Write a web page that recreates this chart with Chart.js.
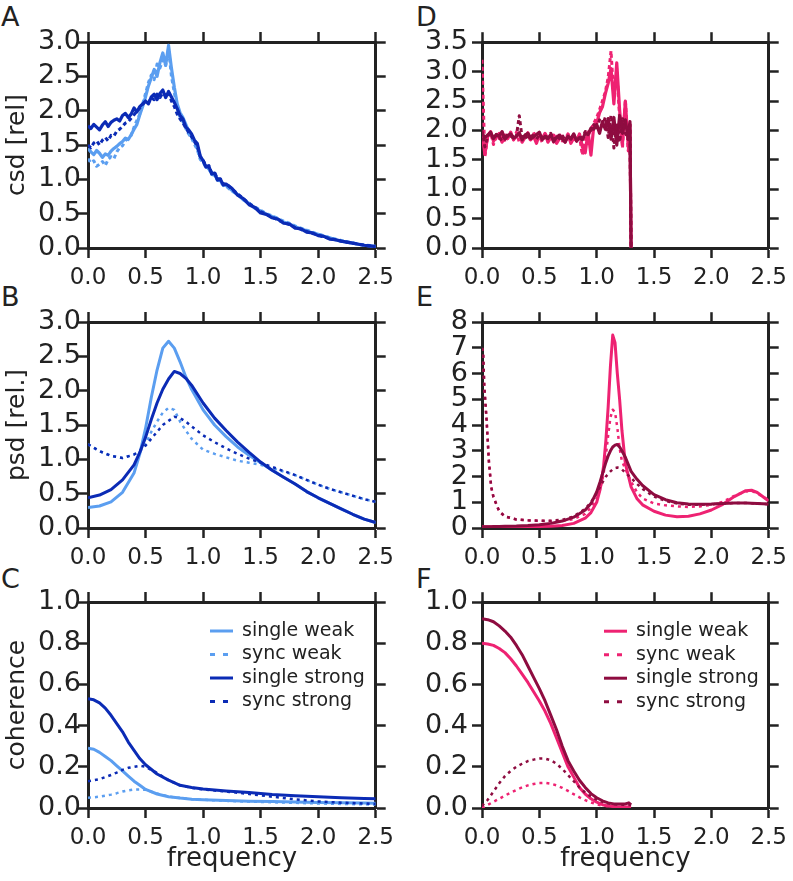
<!DOCTYPE html>
<html>
<head>
<meta charset="utf-8">
<script src="https://cdn.jsdelivr.net/npm/chart.js@4.4.0/dist/chart.umd.min.js"></script>
<style>
body{margin:0;background:#fff;width:793px;height:881px;position:relative;overflow:hidden;font-family:"DejaVu Sans";}
canvas{position:absolute;}
.letra{position:absolute;font-size:27px;line-height:27px;color:#222;}
</style>
</head>
<body>
<div class="letra" style="left:1px;top:3px">A</div>
<div class="letra" style="left:416px;top:3px">D</div>
<div class="letra" style="left:1px;top:283px">B</div>
<div class="letra" style="left:416px;top:283px">E</div>
<div class="letra" style="left:1px;top:565px">C</div>
<div class="letra" style="left:416px;top:565px">F</div>
<canvas id="pA" width="400" height="276" style="left:0;top:22px"></canvas>
<canvas id="pD" width="393" height="276" style="left:400px;top:22px"></canvas>
<canvas id="pB" width="400" height="276" style="left:0;top:302px"></canvas>
<canvas id="pE" width="393" height="276" style="left:400px;top:302px"></canvas>
<canvas id="pC" width="400" height="299" style="left:0;top:582px"></canvas>
<canvas id="pF" width="393" height="299" style="left:400px;top:582px"></canvas>
<script>
// nomes das series (legenda)
var nomes = ["single weak", "sync weak", "single strong", "sync strong"]
var azuis = ["#5b9ef0", "#5b9ef0", "#0b2bb5", "#0b2bb5"]
var rosas = ["#ee2272", "#ee2272", "#8e0c40", "#8e0c40"]

// A: csd
var freqA = [0,0.025,0.05,0.075,0.1,0.125,0.15,0.175,0.2,0.225,
  0.25,0.275,0.3,0.325,0.35,0.375,0.4,0.425,0.45,0.475,
  0.5,0.525,0.55,0.575,0.6,0.625,0.65,0.675,0.7,0.725,
  0.75,0.775,0.8,0.825,0.85,0.875,0.9,0.925,0.95,0.975,
  1.0,1.025,1.05,1.075,1.1,1.125,1.15,1.175,1.2,
  1.25,1.3,1.35,1.4,1.45,1.5,1.55,1.6,1.65,1.7,
  1.75,1.8,1.85,1.9,1.95,2.0,2.05,2.1,2.15,2.2,
  2.25,2.3,2.35,2.4,2.45,2.5]
var csdSingleWeak = [1.45,1.4,1.36,1.42,1.38,1.32,1.37,1.35,1.41,1.45,
  1.48,1.52,1.55,1.6,1.58,1.65,1.73,1.8,1.94,2.06,
  2.2,2.36,2.48,2.6,2.5,2.7,2.84,2.66,2.95,2.62,
  2.34,2.1,1.97,1.9,1.8,1.7,1.62,1.56,1.46,1.32,
  1.27,1.18,1.16,1.08,1.07,0.99,0.98,0.92,0.91,
  0.84,0.78,0.7,0.65,0.58,0.54,0.49,0.46,0.42,0.38,
  0.35,0.31,0.28,0.25,0.22,0.2,0.17,0.15,0.12,0.1,
  0.085,0.07,0.055,0.04,0.03,0.02]
var csdSyncWeak = [1.3,1.24,1.27,1.19,1.22,1.26,1.2,1.29,1.33,1.3,
  1.4,1.46,1.49,1.56,1.61,1.64,1.76,1.86,1.95,2.1,
  2.25,2.41,2.52,2.45,2.68,2.62,2.74,2.66,2.9,2.5,
  2.26,2.04,1.9,1.84,1.74,1.66,1.6,1.51,1.43,1.29,
  1.25,1.17,1.15,1.07,1.06,0.99,0.97,0.91,0.9,
  0.83,0.78,0.71,0.65,0.6,0.55,0.5,0.47,0.43,0.39,
  0.36,0.32,0.29,0.26,0.23,0.2,0.18,0.15,0.13,0.11,
  0.09,0.075,0.06,0.045,0.035,0.025]
var csdSingleStrong = [1.78,1.74,1.8,1.76,1.72,1.79,1.84,1.77,1.83,1.86,
  1.88,1.85,1.93,1.96,1.9,1.95,2.04,1.98,2.06,2.1,
  2.14,2.1,2.2,2.24,2.16,2.25,2.3,2.19,2.28,2.2,
  2.12,2.03,1.93,1.88,1.76,1.72,1.66,1.57,1.52,1.34,
  1.27,1.18,1.19,1.08,1.09,0.99,1.0,0.92,0.93,
  0.87,0.77,0.72,0.63,0.59,0.51,0.49,0.44,0.42,0.36,
  0.35,0.29,0.28,0.23,0.22,0.18,0.17,0.13,0.12,0.1,
  0.085,0.07,0.055,0.04,0.03,0.02]
var csdSyncStrong = [1.5,1.46,1.53,1.56,1.5,1.57,1.61,1.56,1.64,1.63,
  1.7,1.73,1.77,1.82,1.84,1.89,1.94,1.99,2.04,2.09,
  2.14,2.12,2.19,2.16,2.24,2.19,2.26,2.22,2.27,2.14,
  2.06,1.95,1.88,1.82,1.75,1.68,1.62,1.55,1.48,1.33,
  1.28,1.19,1.2,1.09,1.1,1.01,1.01,0.93,0.94,
  0.86,0.79,0.72,0.65,0.59,0.53,0.49,0.45,0.41,0.37,
  0.34,0.3,0.27,0.24,0.21,0.19,0.16,0.14,0.12,0.1,
  0.085,0.07,0.055,0.04,0.03,0.02]

// D: csd
var freqD = [0,0.025,0.05,0.075,0.1,0.125,0.15,0.175,0.2,0.225,
  0.25,0.275,0.3,0.325,0.35,0.375,0.4,0.425,0.45,0.475,
  0.5,0.525,0.55,0.575,0.6,0.625,0.65,0.675,0.7,0.725,
  0.75,0.775,0.8,0.825,0.85,0.875,0.9,0.925,0.95,0.975,
  1.0,1.025,1.05,1.075,1.1,1.125,1.15,1.175,1.2,1.225,
  1.25,1.275,1.29,1.3]
var csdDSingleWeak = [1.95,1.6,1.9,1.98,1.82,1.88,1.95,1.8,1.92,1.86,
  1.97,1.84,1.9,1.95,1.8,1.88,1.96,1.84,1.9,1.78,
  1.93,1.86,1.95,1.8,1.88,1.92,1.78,1.86,1.9,1.8,
  1.94,1.78,1.87,1.82,1.94,1.72,1.62,1.97,1.58,2.08,
  2.12,2.3,2.4,2.62,2.8,3.05,2.45,3.15,2.35,1.78,
  2.5,1.72,2.1,0]
var csdDSyncWeak = [3.2,1.55,1.9,1.97,1.76,1.9,1.86,1.97,1.8,1.9,
  1.94,1.84,1.97,1.8,1.9,1.88,1.93,1.82,1.97,1.85,
  1.9,1.8,1.95,1.86,1.92,1.8,1.9,1.94,1.82,1.88,
  1.93,1.8,1.86,1.84,1.9,1.58,1.87,1.9,2.02,2.12,
  2.22,2.35,2.5,2.65,2.9,3.35,2.55,3.05,2.2,1.7,
  2.52,1.65,2.0,0]
var csdDSingleStrong = [1.95,1.88,1.92,1.97,1.86,1.93,1.9,1.98,1.85,1.91,
  1.94,1.87,1.9,1.96,1.84,1.92,1.95,1.86,1.89,1.93,
  1.97,1.84,1.9,1.86,1.93,1.81,1.88,1.92,1.85,1.8,
  1.9,1.86,1.94,1.82,1.88,1.84,1.95,1.93,2.04,2.02,
  2.1,1.95,2.15,2.02,2.2,1.85,2.22,1.75,2.25,1.95,
  2.18,1.85,2.15,0]
var csdDSyncStrong = [2.0,1.72,1.9,1.96,1.85,1.93,1.88,1.82,1.95,1.9,
  1.86,1.94,1.9,2.25,1.87,1.92,1.84,1.95,1.9,1.85,
  1.93,1.88,1.84,1.92,1.95,1.84,1.9,1.86,1.92,1.82,
  1.9,1.85,1.93,1.82,1.9,1.87,1.98,1.97,2.0,2.1,
  2.02,2.18,2.08,2.22,1.88,2.26,1.7,2.12,1.8,2.2,
  1.95,1.85,2.1,0]

// B: psd
var freqB = [0,0.1,0.2,0.3,0.4,0.45,0.5,0.55,0.6,0.65,0.7,0.75,0.8,0.85,0.9,
  1.0,1.1,1.2,1.3,1.4,1.5,1.6,1.7,1.8,1.9,2.0,2.1,2.2,2.3,2.4,2.5]
var psdSingleWeak = [0.3,0.32,0.38,0.52,0.8,1.08,1.45,1.9,2.3,2.62,2.72,2.62,2.42,2.2,2.02,
  1.72,1.5,1.33,1.18,1.06,0.95,0.84,0.74,0.64,0.53,0.44,0.36,0.28,0.2,0.13,0.08]
var psdSyncWeak = [1.22,1.12,1.05,1.02,1.07,1.12,1.22,1.4,1.55,1.68,1.75,1.72,1.55,1.42,1.3,
  1.14,1.08,1.03,0.98,0.95,0.92,0.87,0.82,0.77,0.7,0.63,0.57,0.52,0.47,0.42,0.38]
var psdSingleStrong = [0.44,0.48,0.56,0.7,0.92,1.1,1.32,1.58,1.82,2.02,2.17,2.28,2.25,2.18,2.08,
  1.82,1.6,1.42,1.25,1.1,0.96,0.84,0.74,0.64,0.53,0.44,0.36,0.28,0.2,0.13,0.08]
var psdSyncStrong = [1.22,1.12,1.05,1.02,1.07,1.12,1.2,1.3,1.4,1.5,1.56,1.62,1.6,1.55,1.48,
  1.35,1.25,1.16,1.08,1.01,0.95,0.89,0.83,0.77,0.7,0.63,0.57,0.52,0.47,0.42,0.38]

// E: psd
var freqE = [0,0.01,0.02,0.04,0.06,0.08,0.1,0.15,0.2,0.3,
  0.4,0.5,0.6,0.7,0.8,0.9,0.95,1.0,1.03,1.06,
  1.08,1.1,1.12,1.14,1.16,1.18,1.2,1.22,1.25,1.3,
  1.35,1.4,1.5,1.6,1.7,1.8,1.9,2.0,2.1,2.2,
  2.3,2.35,2.4,2.5]
var psdESingleWeak = [0.05,0.05,0.05,0.05,0.05,0.05,0.05,0.05,0.05,0.05,
  0.05,0.06,0.07,0.1,0.18,0.38,0.6,1.0,1.5,2.4,
  3.4,4.7,6.3,7.5,7.2,6.0,5.0,3.8,2.5,1.6,
  1.15,0.9,0.65,0.5,0.44,0.46,0.55,0.7,0.92,1.22,
  1.45,1.47,1.38,1.05]
var psdESyncWeak = [7.0,6.8,5.5,4.2,2.6,1.6,1.2,0.65,0.45,0.33,
  0.3,0.28,0.27,0.28,0.35,0.55,0.8,1.15,1.5,2.1,
  2.8,3.6,4.3,4.6,4.5,3.9,3.1,2.6,2.3,1.8,
  1.4,1.15,0.95,0.88,0.84,0.82,0.84,0.9,1.02,1.25,
  1.42,1.44,1.35,1.08]
var psdESingleStrong = [0.05,0.05,0.05,0.05,0.05,0.05,0.06,0.06,0.07,0.08,
  0.1,0.13,0.18,0.27,0.42,0.7,0.95,1.4,1.8,2.25,
  2.55,2.8,3.0,3.15,3.22,3.25,3.15,3.0,2.75,2.2,
  1.9,1.65,1.3,1.1,0.98,0.93,0.92,0.93,0.95,0.97,
  0.97,0.96,0.95,0.93]
var psdESyncStrong = [7.0,6.8,5.5,4.2,2.6,1.6,1.2,0.65,0.45,0.33,
  0.3,0.28,0.28,0.32,0.45,0.75,1.0,1.35,1.6,1.85,
  2.0,2.1,2.2,2.28,2.33,2.35,2.33,2.28,2.15,1.95,
  1.72,1.52,1.22,1.05,0.95,0.9,0.9,0.92,0.95,0.97,
  0.97,0.96,0.95,0.92]

// C: coherence
var freqC = [0,0.05,0.1,0.15,0.2,0.25,0.3,0.35,0.4,0.45,0.5,0.6,0.7,0.8,0.9,1.0,1.2,1.4,1.6,1.8,2.0,2.2,2.4,2.5]
var cohSingleWeak = [0.29,0.285,0.27,0.25,0.23,0.205,0.18,0.155,0.13,0.11,0.09,0.068,0.055,0.048,0.043,0.04,0.036,0.033,0.031,0.029,0.027,0.025,0.024,0.023]
var cohSyncWeak = [0.05,0.052,0.055,0.06,0.065,0.072,0.08,0.086,0.09,0.09,0.088,0.07,0.056,0.048,0.043,0.04,0.035,0.031,0.028,0.025,0.022,0.02,0.018,0.017]
var cohSingleStrong = [0.53,0.525,0.51,0.485,0.45,0.41,0.37,0.32,0.28,0.24,0.21,0.165,0.135,0.11,0.1,0.092,0.083,0.075,0.066,0.06,0.055,0.05,0.046,0.045]
var cohSyncStrong = [0.13,0.135,0.14,0.15,0.16,0.172,0.185,0.195,0.2,0.205,0.2,0.17,0.135,0.11,0.098,0.09,0.08,0.068,0.055,0.042,0.032,0.026,0.022,0.02]

// F: coherence
var freqF = [0,0.05,0.1,0.15,0.2,0.25,0.3,0.35,0.4,0.45,0.5,0.55,0.6,0.65,0.7,0.75,0.8,0.85,0.9,0.95,1.0,1.05,1.1,1.15,1.2,1.25,1.28,1.3]
var cohFSingleWeak = [0.8,0.797,0.79,0.775,0.755,0.725,0.69,0.65,0.61,0.565,0.52,0.47,0.41,0.34,0.27,0.2,0.15,0.1,0.068,0.045,0.028,0.016,0.01,0.007,0.005,0.005,0.005,0.005]
var cohFSyncWeak = [0.0,0.015,0.03,0.045,0.06,0.075,0.088,0.1,0.11,0.117,0.121,0.122,0.118,0.11,0.098,0.083,0.067,0.052,0.038,0.027,0.018,0.012,0.008,0.006,0.005,0.005,0.005,0.005]
var cohFSingleStrong = [0.92,0.915,0.905,0.885,0.86,0.83,0.79,0.745,0.69,0.635,0.58,0.52,0.45,0.38,0.3,0.23,0.18,0.135,0.1,0.07,0.05,0.035,0.025,0.02,0.02,0.02,0.025,0.015]
var cohFSyncStrong = [0.01,0.04,0.08,0.12,0.155,0.18,0.2,0.215,0.228,0.235,0.24,0.24,0.232,0.215,0.19,0.16,0.13,0.1,0.075,0.055,0.04,0.03,0.022,0.018,0.016,0.015,0.015,0.015]

var moldura = "#222"
var fonte = "DejaVu Sans"

// legenda desenhada dentro da area do grafico
var legendaInterna = {
  id: "legendaInterna",
  afterDatasetsDraw: function (chart, args, opts) {
    if (!opts.mostrar) return
    var ctx = chart.ctx, area = chart.chartArea
    ctx.save()
    ctx.font = "19px '" + fonte + "'"
    ctx.textBaseline = "middle"
    chart.data.datasets.forEach(function (ds, i) {
      var y = area.top + 29 + i * 23.5
      var x0 = area.left + 122
      ctx.strokeStyle = ds.borderColor
      ctx.lineWidth = 3
      ctx.setLineDash(ds.borderDash && ds.borderDash.length ? [5, 8] : [])
      ctx.beginPath(); ctx.moveTo(x0, y); ctx.lineTo(x0 + 23, y); ctx.stroke()
      ctx.setLineDash([])
      ctx.fillStyle = moldura
      ctx.fillText(ds.label, x0 + 32, y)
    })
    ctx.restore()
  }
}

function eixo (pos, max, passo, casas, mostra, tam, extra) {
  var e = {
    type: "linear", position: pos, min: 0, max: max,
    grid: { display: true, drawOnChartArea: false, drawTicks: true, tickLength: 10, tickWidth: 2.5, tickColor: moldura },
    border: { display: true, width: 3, color: moldura },
    ticks: { display: mostra, stepSize: passo, autoSkip: false, maxRotation: 0, color: moldura,
      callback: function (v) { return v.toFixed(casas) } },
    afterFit: function (s) { if (s.isHorizontal()) s.height = tam; else s.width = tam }
  }
  if (extra) {
    Object.assign(e.ticks, extra.ticks || {})
    if (extra.title) e.title = extra.title
  }
  return e
}

function painel (id, freq, series, cores, p) {
  var datasets = series.map(function (vals, i) {
    var pontilhada = i % 2 == 1
    return {
      label: nomes[i],
      data: freq.map(function (f, k) { return { x: f, y: vals[k] } }),
      borderColor: cores[i],
      backgroundColor: cores[i],
      borderWidth: pontilhada ? p.lp : p.ls,
      borderDash: pontilhada ? p.tr : [],
      borderJoinStyle: "round",
      order: -i,
      pointRadius: 0,
      tension: 0,
      fill: false
    }
  })
  var esquerda = p.coluna == 0
  var yTicks = { font: { family: fonte, size: 27 }, padding: esquerda ? -3 : 4 }
  var yExtra = { ticks: yTicks }
  if (p.tituloY) yExtra.title = { display: true, text: p.tituloY, color: moldura, font: { family: fonte, size: 25 }, padding: { top: 2, bottom: 0 } }
  var xExtra = { ticks: { font: { family: fonte, size: 23 }, padding: 6 } }
  if (p.tituloX) xExtra.title = { display: true, text: p.tituloX, color: moldura, font: { family: fonte, size: 26 }, padding: { top: 0, bottom: 6 } }
  var larg = esquerda ? [88, 21] : [82, 20]
  new Chart(document.getElementById(id).getContext("2d"), {
    type: "line",
    data: { datasets: datasets },
    options: {
      responsive: false, animation: false, devicePixelRatio: 1,
      layout: { padding: 0 },
      plugins: { legend: { display: false }, tooltip: { enabled: false }, legendaInterna: { mostrar: !!p.legenda } },
      scales: {
        x: eixo("bottom", 2.5, 0.5, 1, true, p.baixo, xExtra),
        x2: eixo("top", 2.5, 0.5, 1, false, 20),
        y: eixo("left", p.ymax, p.ypasso, p.casas, true, larg[0], yExtra),
        y2: eixo("right", p.ymax, p.ypasso, p.casas, false, larg[1])
      }
    },
    plugins: [legendaInterna]
  })
}

painel("pA", freqA, [csdSingleWeak, csdSyncWeak, csdSingleStrong, csdSyncStrong], azuis,
  { coluna: 0, ymax: 3, ypasso: 0.5, casas: 1, baixo: 50, tituloY: "csd [rel]", ls: 3.2, lp: 3, tr: [4, 3] })
painel("pD", freqD, [csdDSingleWeak, csdDSyncWeak, csdDSingleStrong, csdDSyncStrong], rosas,
  { coluna: 1, ymax: 3.5, ypasso: 0.5, casas: 1, baixo: 50, ls: 3.2, lp: 3, tr: [4, 3] })
painel("pB", freqB, [psdSingleWeak, psdSyncWeak, psdSingleStrong, psdSyncStrong], azuis,
  { coluna: 0, ymax: 3, ypasso: 0.5, casas: 1, baixo: 50, tituloY: "psd [rel.]", ls: 3, lp: 2.5, tr: [3, 4] })
painel("pE", freqE, [psdESingleWeak, psdESyncWeak, psdESingleStrong, psdESyncStrong], rosas,
  { coluna: 1, ymax: 8, ypasso: 1, casas: 0, baixo: 50, ls: 3, lp: 2.5, tr: [3, 4] })
painel("pC", freqC, [cohSingleWeak, cohSyncWeak, cohSingleStrong, cohSyncStrong], azuis,
  { coluna: 0, ymax: 1, ypasso: 0.2, casas: 1, baixo: 73, tituloY: "coherence", tituloX: "frequency", legenda: true, ls: 3, lp: 2.5, tr: [3, 4] })
painel("pF", freqF, [cohFSingleWeak, cohFSyncWeak, cohFSingleStrong, cohFSyncStrong], rosas,
  { coluna: 1, ymax: 1, ypasso: 0.2, casas: 1, baixo: 73, tituloX: "frequency", legenda: true, ls: 3, lp: 2.5, tr: [3, 4] })
</script>
</body>
</html>
